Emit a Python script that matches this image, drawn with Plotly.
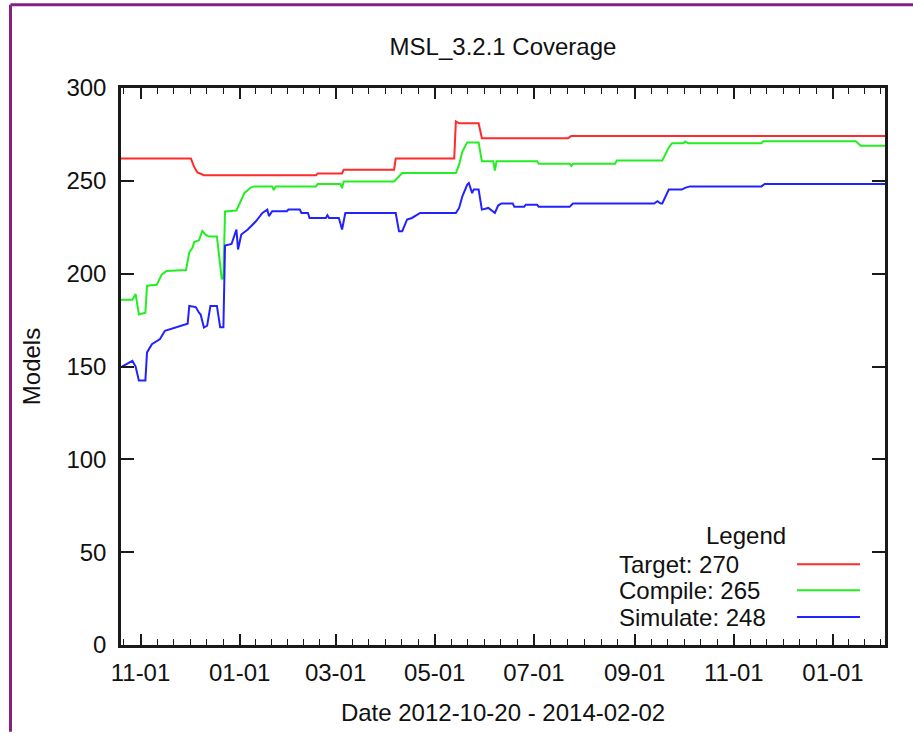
import plotly.graph_objects as go
import pandas as pd

# ---------------- data ----------------
target_dates = ["2012-10-20", "2012-12-02", "2012-12-04", "2012-12-06", "2012-12-10",
                "2013-02-17", "2013-02-18", "2013-03-05", "2013-03-06", "2013-04-06",
                "2013-04-07", "2013-05-13", "2013-05-14", "2013-05-16", "2013-05-28",
                "2013-05-30", "2013-07-22", "2013-07-24", "2014-02-02"]
target_values = [262, 262, 257.5, 254.5, 253, 253, 254, 254, 256, 256,
                 262, 262, 282, 281, 281, 273, 273, 274.2, 274.2]

compile_dates = ["2012-10-20", "2012-10-27", "2012-10-29", "2012-10-31", "2012-11-04",
                 "2012-11-05", "2012-11-11", "2012-11-14", "2012-11-17", "2012-11-29",
                 "2012-12-01", "2012-12-03", "2012-12-04", "2012-12-07", "2012-12-09",
                 "2012-12-11", "2012-12-13", "2012-12-18", "2012-12-21", "2012-12-22",
                 "2012-12-23", "2012-12-30", "2013-01-04", "2013-01-08", "2013-01-10",
                 "2013-01-21", "2013-01-22", "2013-01-23", "2013-02-17", "2013-02-18",
                 "2013-03-04", "2013-03-05", "2013-03-06", "2013-04-06", "2013-04-11",
                 "2013-05-14", "2013-05-16", "2013-05-18", "2013-05-21", "2013-05-28",
                 "2013-05-30", "2013-06-06", "2013-06-07", "2013-06-08", "2013-07-03",
                 "2013-07-04", "2013-07-23", "2013-07-24", "2013-07-25", "2013-08-20",
                 "2013-08-21", "2013-09-18", "2013-09-22", "2013-09-24", "2013-10-01",
                 "2013-10-02", "2013-10-04", "2013-11-18", "2013-11-19", "2014-01-15",
                 "2014-01-18", "2014-02-02"]
compile_values = [186, 186, 189, 178, 179,
                  193.5, 194, 199.5, 201.5, 202,
                  211.5, 214, 217, 218, 223,
                  221, 220, 220, 197, 198,
                  233.5, 234, 243.5, 246.5, 247,
                  247, 245, 247, 247, 248.3,
                  248.3, 246, 249.7, 249.7, 254.2,
                  254.2, 258.7, 265.8, 270.7, 270.7,
                  260.5, 260.5, 255.5, 260.5, 260.5,
                  259.2, 259.2, 258, 259.2, 259.2,
                  261, 261, 268, 270.3, 270.3,
                  271.2, 270.3, 270.3, 271.3, 271.3,
                  268.9, 268.9]

simulate_dates = ["2012-10-20", "2012-10-27", "2012-10-29", "2012-10-31", "2012-11-04",
                  "2012-11-05", "2012-11-08", "2012-11-13", "2012-11-16", "2012-11-22",
                  "2012-11-28", "2012-11-30", "2012-12-01", "2012-12-05", "2012-12-07",
                  "2012-12-08", "2012-12-10", "2012-12-12", "2012-12-14", "2012-12-18",
                  "2012-12-20", "2012-12-22", "2012-12-23", "2012-12-27", "2012-12-30",
                  "2012-12-31", "2013-01-02", "2013-01-06", "2013-01-11", "2013-01-15",
                  "2013-01-18", "2013-01-19", "2013-01-21", "2013-01-30", "2013-01-31",
                  "2013-02-07", "2013-02-08", "2013-02-12", "2013-02-13", "2013-02-23",
                  "2013-02-24", "2013-02-25", "2013-03-03", "2013-03-05", "2013-03-07",
                  "2013-04-07", "2013-04-09", "2013-04-11", "2013-04-14", "2013-04-17",
                  "2013-04-22", "2013-05-14", "2013-05-16", "2013-05-18", "2013-05-21",
                  "2013-05-22", "2013-05-24", "2013-05-25", "2013-05-28", "2013-05-30",
                  "2013-06-03", "2013-06-07", "2013-06-09", "2013-06-11", "2013-06-18",
                  "2013-06-19", "2013-06-25", "2013-06-26", "2013-07-03", "2013-07-04",
                  "2013-07-23", "2013-07-25", "2013-09-13", "2013-09-15", "2013-09-17",
                  "2013-09-18", "2013-09-22", "2013-09-30", "2013-10-02", "2013-10-05",
                  "2013-11-18", "2013-11-20", "2014-02-02"]
simulate_values = [149.6, 153, 150, 142.4, 142.4,
                   157.6, 162, 164.8, 169.2, 171,
                   172.8, 173, 182.6, 182, 179,
                   178, 171, 172, 182.6, 182.6,
                   171.2, 171.2, 215.2, 216, 223.8,
                   213, 221.1, 223.8, 228.2, 232.7,
                   234.5, 231, 233.6, 233.6, 234.5,
                   234.5, 232.7, 232.7, 230, 230,
                   231.5, 230, 230, 223.8, 232.7,
                   232.7, 222.9, 222.9, 229.2, 230,
                   232.7, 232.7, 235.4, 241.7, 248,
                   248.8, 243.4, 245.3, 245.3, 234.5,
                   235.4, 232.7, 236.7, 237.8, 237.8,
                   236, 236, 237.1, 237.1, 236,
                   236, 237.8, 237.8, 239, 237.8,
                   237.8, 245.3, 245.3, 246.2, 247,
                   247, 248.3, 248.3]

series_names = ["Target", "Compile", "Simulate"]
series_totals = [270, 265, 248]
series_colors = ["#ff2a2a", "#22ee22", "#2222ff"]

x_tick_dates = ["2012-11-01", "2013-01-01", "2013-03-01", "2013-05-01",
                "2013-07-01", "2013-09-01", "2013-11-01", "2014-01-01"]
x_tick_labels = ["11-01", "01-01", "03-01", "05-01", "07-01", "09-01", "11-01", "01-01"]
y_tick_values = [0, 50, 100, 150, 200, 250, 300]

title_text = "MSL_3.2.1 Coverage"
x_title = "Date 2012-10-20 - 2014-02-02"
y_title = "Models"
legend_title = "Legend"

# ---------------- figure ----------------
FONT = "Liberation Sans, Arial, sans-serif"
FS = 24
AX = "#1a1a1a"

fig = go.Figure()
all_dates = [target_dates, compile_dates, simulate_dates]
all_values = [target_values, compile_values, simulate_values]
for name, d, v, c in zip(series_names, all_dates, all_values, series_colors):
    fig.add_trace(go.Scatter(x=d, y=v, mode="lines", name=name,
                             line=dict(color=c, width=2), showlegend=False))

# minor ticks: 5 between each pair of 2-month majors
edges = ["2012-09-01"] + x_tick_dates + ["2014-03-01"]
minor_vals = []
for a, b in zip(edges[:-1], edges[1:]):
    ta, tb = pd.Timestamp(a), pd.Timestamp(b)
    for k in range(1, 6):
        minor_vals.append((ta + (tb - ta) * k / 6).strftime("%Y-%m-%d %H:%M"))

W, H = 913, 734
L, R, T, B = 121, 28, 88, 87
pw, ph = W - L - R, H - T - B


def px(x):
    return (x - L) / pw


def py(y):
    return (H - B - y) / ph


fig.update_layout(
    width=W, height=H,
    margin=dict(l=L, r=R, t=T, b=B),
    paper_bgcolor="white", plot_bgcolor="white",
    font=dict(family=FONT, size=FS, color="#111111"),
    title=dict(text=title_text, x=0.5, xref="paper", xanchor="center",
               y=1 - 47 / H, yref="container", yanchor="middle",
               font=dict(size=FS, family=FONT, color="#111111")),
    xaxis=dict(type="date", range=["2012-10-20", "2014-02-02"],
               tickmode="array", tickvals=x_tick_dates, ticktext=x_tick_labels,
               ticks="inside", ticklen=11, tickwidth=1.5, tickcolor=AX,
               showline=True, linewidth=2.5, linecolor=AX, mirror="allticks",
               showgrid=False, zeroline=False, ticklabelstandoff=4,
               minor=dict(tickmode="array", tickvals=minor_vals, ticks="inside",
                          ticklen=6, tickwidth=1.2, tickcolor=AX, showgrid=False),
               title=dict(text=x_title, standoff=20, font=dict(size=FS))),
    yaxis=dict(range=[0, 300], tickmode="array", tickvals=y_tick_values,
               ticks="inside", ticklen=13, tickwidth=1.5, tickcolor=AX,
               showline=True, linewidth=2.5, linecolor=AX, mirror="allticks",
               showgrid=False, zeroline=False, ticklabelstandoff=7,
               title=dict(text=y_title, standoff=20, font=dict(size=FS))),
)

# legend drawn gnuplot-style: text on the left, sample line on the right
fig.add_annotation(x=px(746), y=py(537), xref="paper", yref="paper",
                   text=legend_title, showarrow=False, xanchor="center", yanchor="middle",
                   font=dict(size=FS, family=FONT, color="#111111"))
row_y = [566, 592, 619]
for name, tot, c, yy in zip(series_names, series_totals, series_colors, row_y):
    fig.add_annotation(x=px(617), y=py(yy), xref="paper", yref="paper",
                       text=f"{name}: {tot}", showarrow=False, xanchor="left", yanchor="middle",
                       font=dict(size=FS, family=FONT, color="#111111"))
    fig.add_shape(type="line", xref="paper", yref="paper",
                  x0=px(797), x1=px(860), y0=py(yy), y1=py(yy),
                  line=dict(color=c, width=2))

# purple frame around the picture (top and left edges)
frame = "#862086"
fig.add_shape(type="line", xref="paper", yref="paper",
              x0=px(10.5), x1=px(W), y0=py(4.5), y1=py(4.5), line=dict(color=frame, width=3))
fig.add_shape(type="line", xref="paper", yref="paper",
              x0=px(10.5), x1=px(10.5), y0=py(4.5), y1=py(H), line=dict(color=frame, width=3))

fig.write_html("out.html", config={"displayModeBar": False},
               post_script="document.body.style.margin='0px';")
